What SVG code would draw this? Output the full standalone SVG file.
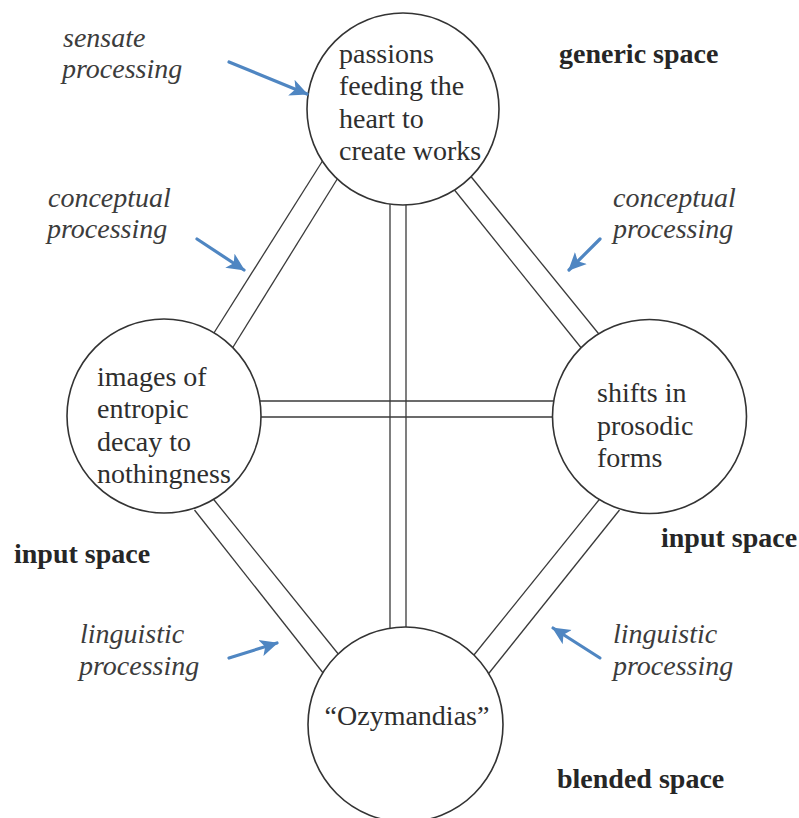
<svg xmlns="http://www.w3.org/2000/svg" width="799" height="818" viewBox="0 0 799 818">
  <style>
    .bg { fill: #ffffff; }
    .link { stroke: #3a3a3a; stroke-width: 1.3; fill: none; }
    .space { fill: #ffffff; stroke: #333333; stroke-width: 1.6; }
    .label { font-family: "Liberation Serif", "Times New Roman", serif; font-size: 28px; fill: #2e2e2e; }
    .note { font-family: "Liberation Serif", "Times New Roman", serif; font-size: 28px; font-style: italic; fill: #3c3c3c; }
    .title { font-family: "Liberation Serif", "Times New Roman", serif; font-size: 28px; font-weight: bold; fill: #262626; }
    .pointer { stroke: #4f86c2; stroke-width: 3.2; fill: none; stroke-linecap: round; }
  </style>
  <defs>
    <marker id="blueHead" markerUnits="userSpaceOnUse" markerWidth="18" markerHeight="18" viewBox="0 -8 16 16" refX="15" refY="0" orient="auto">
      <path d="M0,-7.5 L16,0 L0,7.5 L4,0 Z" fill="#4f86c2"/>
    </marker>
  </defs>

  <rect class="bg" x="0" y="0" width="799" height="818"/>

  <!-- double-line links between the four spaces -->
  <g id="connectors">
    <line class="link" x1="325" y1="157" x2="212" y2="336"/>
    <line class="link" x1="341" y1="173" x2="230" y2="352"/>
    <line class="link" x1="470.5" y1="176" x2="600.5" y2="336"/>
    <line class="link" x1="454.5" y1="190" x2="584.5" y2="352"/>
    <line class="link" x1="194.5" y1="510" x2="325.5" y2="676"/>
    <line class="link" x1="212.5" y1="498" x2="341.5" y2="658"/>
    <line class="link" x1="600.5" y1="498" x2="471.5" y2="658"/>
    <line class="link" x1="619.5" y1="510" x2="487.5" y2="675"/>
    <line class="link" x1="390" y1="200" x2="390" y2="632"/>
    <line class="link" x1="406" y1="200" x2="406" y2="632"/>
    <line class="link" x1="255" y1="401" x2="558" y2="401"/>
    <line class="link" x1="255" y1="417" x2="558" y2="417"/>
  </g>

  <g id="generic-space">
    <circle class="space" cx="403" cy="109" r="96"/>
    <text class="label" x="339" y="63">passions</text>
    <text class="label" x="339" y="95">feeding the</text>
    <text class="label" x="339" y="128">heart to</text>
    <text class="label" x="339" y="160">create works</text>
  </g>

  <g id="input-space-left">
    <circle class="space" cx="164" cy="416" r="97"/>
    <text class="label" x="97" y="386">images of</text>
    <text class="label" x="97" y="418">entropic</text>
    <text class="label" x="97" y="451">decay to</text>
    <text class="label" x="97" y="483">nothingness</text>
  </g>

  <g id="input-space-right">
    <circle class="space" cx="649.5" cy="416.5" r="97"/>
    <text class="label" x="597" y="402">shifts in</text>
    <text class="label" x="597" y="435">prosodic</text>
    <text class="label" x="597" y="467">forms</text>
  </g>

  <g id="blended-space">
    <circle class="space" cx="405.5" cy="724.5" r="97.5"/>
    <text class="label" x="407" y="725" text-anchor="middle">“Ozymandias”</text>
  </g>

  <!-- processing annotations -->
  <g id="annotations">
    <line class="pointer" x1="229" y1="62" x2="307" y2="94" marker-end="url(#blueHead)"/>
    <line class="pointer" x1="197" y1="239" x2="244" y2="270" marker-end="url(#blueHead)"/>
    <line class="pointer" x1="600" y1="239" x2="569" y2="270" marker-end="url(#blueHead)"/>
    <line class="pointer" x1="229" y1="658" x2="277" y2="643" marker-end="url(#blueHead)"/>
    <line class="pointer" x1="600" y1="658" x2="553" y2="628" marker-end="url(#blueHead)"/>

    <text class="note" x="63" y="47">sensate</text>
    <text class="note" x="62" y="78">processing</text>
    <text class="note" x="48" y="207">conceptual</text>
    <text class="note" x="47" y="238">processing</text>
    <text class="note" x="613" y="207">conceptual</text>
    <text class="note" x="613" y="238">processing</text>
    <text class="note" x="80" y="643">linguistic</text>
    <text class="note" x="79" y="675">processing</text>
    <text class="note" x="613" y="643">linguistic</text>
    <text class="note" x="613" y="675">processing</text>
  </g>

  <g id="space-titles">
    <text class="title" x="559" y="63">generic space</text>
    <text class="title" x="14" y="563">input space</text>
    <text class="title" x="661" y="547">input space</text>
    <text class="title" x="557" y="788">blended space</text>
  </g>
</svg>
